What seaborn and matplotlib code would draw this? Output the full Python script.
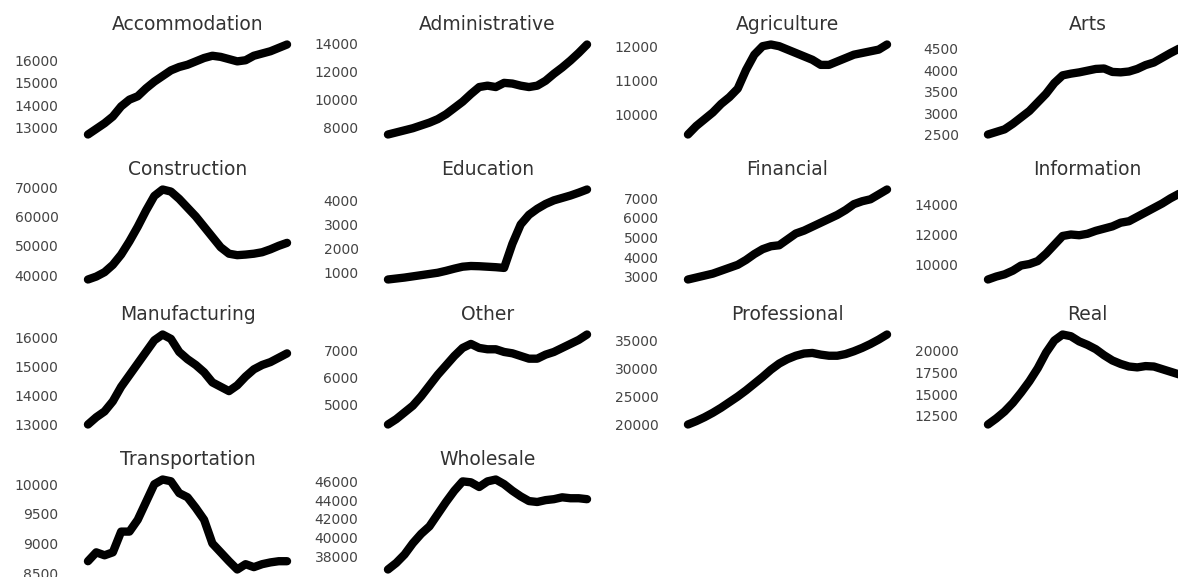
import pandas as pd
import matplotlib.pyplot as plt
import matplotlib.ticker as mticker
import seaborn as sns

# industries in panel order
industries = ['Accommodation', 'Administrative', 'Agriculture', 'Arts',
              'Construction', 'Education', 'Financial', 'Information',
              'Manufacturing', 'Other', 'Professional', 'Real',
              'Transportation', 'Wholesale']

periods = list(range(25))

# values, one list per industry
accommodation = [12700, 12950, 13200, 13500, 13950, 14250, 14400, 14750, 15050, 15300,
                 15550, 15700, 15800, 15950, 16100, 16200, 16150, 16050, 15950, 16000,
                 16200, 16300, 16400, 16550, 16700]
administrative = [7500, 7650, 7800, 7950, 8150, 8350, 8600, 8950, 9400, 9850,
                  10400, 10900, 11000, 10900, 11200, 11150, 11000, 10900, 11000, 11350,
                  11850, 12300, 12800, 13350, 13950]
agriculture = [9400, 9650, 9850, 10050, 10300, 10500, 10750, 11300, 11750, 12000,
               12050, 12000, 11900, 11800, 11700, 11600, 11450, 11450, 11550, 11650,
               11750, 11800, 11850, 11900, 12050]
arts = [2500, 2560, 2620, 2750, 2900, 3050, 3250, 3450, 3700, 3880,
        3920, 3950, 3990, 4030, 4040, 3960, 3950, 3970, 4030, 4120,
        4180, 4290, 4400, 4500, 4600]
construction = [38500, 39500, 41000, 43500, 47000, 51500, 56500, 62000, 67000, 69200,
                68500, 66000, 63000, 60000, 56500, 53000, 49500, 47300, 46800, 47000,
                47300, 47800, 48800, 50000, 51000]
education = [720, 760, 800, 850, 900, 950, 1000, 1080, 1170, 1250,
             1280, 1270, 1250, 1230, 1200, 2200, 3000, 3400, 3650, 3850,
             4000, 4100, 4200, 4320, 4450]
financial = [2850, 2950, 3050, 3150, 3300, 3450, 3600, 3850, 4150, 4400,
             4550, 4600, 4900, 5200, 5350, 5550, 5750, 5950, 6150, 6400,
             6700, 6850, 6950, 7200, 7450]
information = [8950, 9150, 9300, 9550, 9900, 10000, 10200, 10700, 11300, 11900,
               12000, 11950, 12050, 12250, 12400, 12550, 12800, 12900, 13200, 13500,
               13800, 14100, 14450, 14750, 15050]
manufacturing = [13000, 13250, 13450, 13800, 14300, 14700, 15100, 15500, 15900, 16100,
                 15950, 15500, 15250, 15050, 14800, 14450, 14300, 14150, 14350, 14650,
                 14900, 15050, 15150, 15300, 15450]
other = [4250, 4450, 4700, 4950, 5300, 5700, 6100, 6450, 6800, 7100,
         7250, 7100, 7050, 7050, 6950, 6900, 6800, 6700, 6700, 6850,
         6950, 7100, 7250, 7400, 7600]
professional = [20000, 20600, 21300, 22100, 23000, 24000, 25000, 26100, 27300, 28500,
                29800, 30900, 31700, 32300, 32700, 32800, 32500, 32300, 32300, 32600,
                33100, 33700, 34400, 35200, 36100]
real = [11500, 12200, 13000, 14000, 15200, 16500, 18000, 19800, 21200, 21900,
        21700, 21100, 20700, 20200, 19500, 18900, 18500, 18200, 18100, 18250,
        18200, 17900, 17600, 17300, 17000]
transportation = [8700, 8850, 8800, 8850, 9200, 9200, 9400, 9700, 10000, 10080,
                  10050, 9850, 9780, 9600, 9400, 9000, 8850, 8700, 8560, 8650,
                  8600, 8650, 8680, 8700, 8700]
wholesale = [36600, 37300, 38200, 39400, 40400, 41200, 42500, 43800, 45000, 46000,
             45900, 45400, 46000, 46200, 45700, 45000, 44400, 43900, 43800, 44000,
             44100, 44300, 44200, 44200, 44100]

series = [accommodation, administrative, agriculture, arts, construction, education,
          financial, information, manufacturing, other, professional, real,
          transportation, wholesale]

# y tick labels shown on each panel
yticks = {
    'Accommodation': [13000, 14000, 15000, 16000],
    'Administrative': [8000, 10000, 12000, 14000],
    'Agriculture': [10000, 11000, 12000],
    'Arts': [2500, 3000, 3500, 4000, 4500],
    'Construction': [40000, 50000, 60000, 70000],
    'Education': [1000, 2000, 3000, 4000],
    'Financial': [3000, 4000, 5000, 6000, 7000],
    'Information': [10000, 12000, 14000],
    'Manufacturing': [13000, 14000, 15000, 16000],
    'Other': [5000, 6000, 7000],
    'Professional': [20000, 25000, 30000, 35000],
    'Real': [12500, 15000, 17500, 20000],
    'Transportation': [8500, 9000, 9500, 10000],
    'Wholesale': [38000, 40000, 42000, 44000, 46000],
}

rows = []
for name, vals in zip(industries, series):
    for p, v in zip(periods, vals):
        rows.append({'industry': name, 'period': p, 'value': v})
df = pd.DataFrame(rows)

sns.set_style('white')
plt.rcParams['font.family'] = ['DejaVu Sans']

g = sns.relplot(data=df, x='period', y='value', col='industry', col_wrap=4,
                kind='line', color='black', linewidth=6,
                facet_kws=dict(sharey=False, sharex=False))
g.set_titles('{col_name}', size=13.5, color='#333333', pad=7)
g.set_axis_labels('', '')

fig = g.figure
W, H = 1178, 577
fig.set_size_inches(W / 100, H / 100)
fig.set_dpi(100)

for i, ax in enumerate(g.axes.flat):
    name = industries[i]
    r, c = divmod(i, 4)
    left = 78 + 300 * c
    top = 40 + 145 * r
    ax.set_position([left / W, 1 - (top + 99) / H, 219 / W, 99 / H])
    for line in ax.lines:
        line.set_solid_capstyle('round')
        line.set_solid_joinstyle('round')
    ax.set_xticks([])
    ax.set_yticks(yticks[name])
    ax.yaxis.set_major_formatter(mticker.StrMethodFormatter('{x:.0f}'))
    ax.tick_params(axis='y', length=0, pad=14, labelsize=10, labelcolor='#444444')
    for s in ax.spines.values():
        s.set_visible(False)

fig.savefig('out.png', dpi=100)
